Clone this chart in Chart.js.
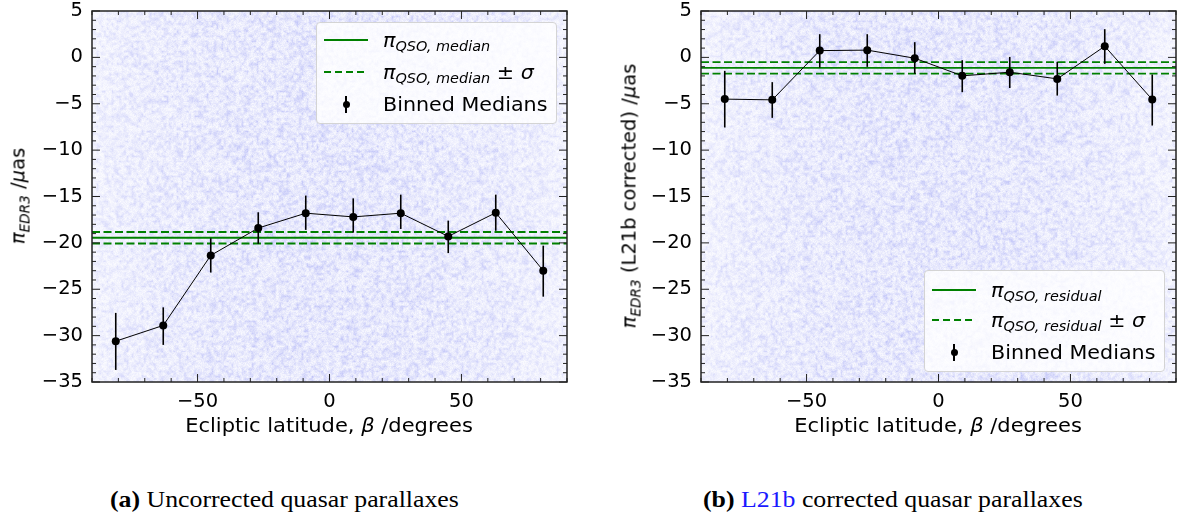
<!DOCTYPE html>
<html>
<head>
<meta charset="utf-8">
<script src="https://cdn.jsdelivr.net/npm/chart.js@4.4.1/dist/chart.umd.min.js"></script>
<style>
  body { margin: 0; width: 1180px; height: 515px; background: #fff; position: relative; overflow: hidden; font-family: "DejaVu Sans", sans-serif; color: #000; }
  .panel { position: absolute; top: 0; height: 440px; }
  .ytitle { position: absolute; white-space: nowrap; font-size: 19.5px; transform: translate(-50%, -50%) rotate(-90deg); }
  .xtitle { position: absolute; top: 413px; white-space: nowrap; font-size: 20px; transform: translateX(-50%) scaleX(1.05); }
  sub { font-size: 0.7em; vertical-align: -0.35em; line-height: 0; font-style: italic; }
  .legend { position: absolute; width: 241px; height: 102px; box-sizing: border-box; border: 1px solid #d4d4d4; border-radius: 4px; background: rgba(255,255,255,0.8); font-size: 19.5px; }
  .row { position: absolute; left: 0; width: 100%; height: 0; }
  .solid { position: absolute; left: 7px; width: 44px; top: -1px; height: 2px; background: #008000; }
  .dash { position: absolute; left: 7px; width: 44px; top: -1px; height: 2px; background: repeating-linear-gradient(to right, #008000 0 7px, transparent 7px 11px); }
  .bar { position: absolute; left: 28px; width: 2px; top: -8px; height: 17px; background: #000; }
  .dot { position: absolute; left: 25.5px; top: -3.5px; width: 7px; height: 7px; border-radius: 50%; background: #000; }
  .lt { position: absolute; left: 66px; top: 0; transform-origin: left center; transform: translateY(-50%) scaleX(1.06); white-space: nowrap; }
  .caption { position: absolute; top: 487px; line-height: 1; font-family: "Liberation Serif", "Times New Roman", serif; font-size: 24px; white-space: nowrap; transform-origin: left top; transform: scaleX(1.075); }
  .caption b { font-weight: bold; }
  .ref { color: #1a1aff; }
</style>
</head>
<body>
<div class="panel" style="left:0;width:590px"><canvas id="raw"></canvas></div>
<div class="panel" style="left:600px;width:580px"><canvas id="corr"></canvas></div>

<div class="ytitle" style="left:18px;top:196px"><i>π</i><sub>EDR3</sub> /<i>μ</i>as</div>
<div class="ytitle" style="left:629px;top:196px"><i>π</i><sub>EDR3</sub> (L21b corrected) /<i>μ</i>as</div>
<div class="xtitle" style="left:329px">Ecliptic latitude, <i>β</i> /degrees</div>
<div class="xtitle" style="left:938px">Ecliptic latitude, <i>β</i> /degrees</div>

<div class="legend" style="left:316px;top:22px">
  <div class="row" style="top:17px"><div class="solid"></div><div class="lt"><i>π</i><sub>QSO, median</sub></div></div>
  <div class="row" style="top:48.5px"><div class="dash"></div><div class="lt"><i>π</i><sub>QSO, median</sub> ± <i>σ</i></div></div>
  <div class="row" style="top:81px"><div class="bar"></div><div class="dot"></div><div class="lt">Binned Medians</div></div>
</div>
<div class="legend" style="left:924px;top:270px">
  <div class="row" style="top:19px"><div class="solid"></div><div class="lt"><i>π</i><sub>QSO, residual</sub></div></div>
  <div class="row" style="top:49px"><div class="dash"></div><div class="lt"><i>π</i><sub>QSO, residual</sub> ± <i>σ</i></div></div>
  <div class="row" style="top:81px"><div class="bar"></div><div class="dot"></div><div class="lt">Binned Medians</div></div>
</div>

<div class="caption" style="left:110px"><b>(a)</b> Uncorrected quasar parallaxes</div>
<div class="caption" style="left:703px"><b>(b)</b> <span class="ref">L21b</span> corrected quasar parallaxes</div>

<script>
// ecliptic latitude bins (degrees)
const binCentres = [-81, -63, -45, -27, -9, 9, 27, 45, 63, 81];
const xTicks = [-50, 0, 50];
const yTicks = [-35, -30, -25, -20, -15, -10, -5, 0, 5];

// (a) uncorrected parallaxes, µas
const rawMedians = [-30.6, -28.9, -21.35, -18.4, -16.8, -17.2, -16.8, -19.3, -16.75, -23.0];
const rawUpper = [-27.55, -26.95, -19.5, -16.7, -14.9, -15.2, -14.8, -17.6, -14.8, -20.3];
const rawLower = [-33.7, -31.0, -23.2, -20.1, -18.6, -18.9, -18.5, -21.1, -18.7, -25.8];
const rawQsoMedian = -19.45;
const rawQsoSigma = 0.62;

// (b) L21b corrected parallaxes, µas
const corrMedians = [-4.5, -4.58, 0.73, 0.78, -0.09, -1.99, -1.6, -2.32, 1.2, -4.55];
const corrUpper = [-1.45, -2.67, 2.5, 2.5, 1.64, -0.3, 0.05, -0.48, 3.04, -1.85];
const corrLower = [-7.56, -6.52, -1.1, -1.02, -1.78, -3.75, -3.3, -4.12, -0.7, -7.35];
const corrQsoResidual = -1.13;
const corrQsoSigma = 0.62;

const GREEN = '#008000';
const fmt = v => (v < 0 ? '\u2212' + Math.abs(v) : String(v));

// integer hash, used only for the speckled background texture
function hash2(x, y) {
  let h = Math.imul(x, 374761393) ^ Math.imul(y, 668265263);
  h = Math.imul(h ^ (h >>> 13), 1274126177);
  h ^= h >>> 16;
  return (h >>> 0) / 4294967296;
}

// faint blue cloud behind the data (the individual quasars)
const skyCloud = {
  id: 'skyCloud',
  beforeDatasetsDraw(chart, args, opts) {
    const { ctx, chartArea: a, scales: { x } } = chart;
    const left = Math.round(a.left), top = Math.round(a.top);
    const w = Math.round(a.right) - left, h = Math.round(a.bottom) - top;
    if (!chart.$cloud) {
      const img = ctx.createImageData(w, h);
      const s = opts.seed;
      for (let j = 0; j < h; j++) {
        for (let i = 0; i < w; i++) {
          const beta = x.getValueForPixel(left + i) * Math.PI / 180;
          const dens = 0.45 + 0.55 * Math.sqrt(Math.max(Math.cos(beta), 0));
          const gx = i / 2.5, gy = j / 2.5, ix = Math.floor(gx), iy = Math.floor(gy), fx = gx - ix, fy = gy - iy;
          const sm = (hash2(ix + s, iy) * (1 - fx) + hash2(ix + 1 + s, iy) * fx) * (1 - fy) +
                     (hash2(ix + s, iy + 1) * (1 - fx) + hash2(ix + 1 + s, iy + 1) * fx) * fy;
          const px = hash2(i + 7777 + s, j + 3333);
          const al = dens * (0.03 + 0.24 * sm * sm + 0.10 * px);
          const k = (j * w + i) * 4;
          img.data[k] = 255 - al * 175;
          img.data[k + 1] = 255 - al * 165;
          img.data[k + 2] = 255 - al * 20;
          img.data[k + 3] = 255;
        }
      }
      chart.$cloud = img;
    }
    ctx.putImageData(chart.$cloud, left, top);
  }
};

// vertical error bars under the binned medians
const errorBars = {
  id: 'errorBars',
  beforeDatasetDraw(chart, args, opts) {
    if (args.index !== 0) return;
    const { ctx, scales: { x, y } } = chart;
    ctx.save();
    ctx.strokeStyle = '#000';
    ctx.lineWidth = 1.6;
    opts.centres.forEach((c, i) => {
      const px = x.getPixelForValue(c);
      ctx.beginPath();
      ctx.moveTo(px, y.getPixelForValue(opts.lower[i]));
      ctx.lineTo(px, y.getPixelForValue(opts.upper[i]));
      ctx.stroke();
    });
    ctx.restore();
  }
};

// matplotlib style box with inward major/minor ticks on all four sides
const frameTicks = {
  id: 'frameTicks',
  afterDraw(chart, args, opts) {
    const { ctx, chartArea: a, scales: { x, y } } = chart;
    ctx.save();
    ctx.strokeStyle = '#222';
    ctx.lineWidth = 1;
    const tick = (px, py, dx, dy) => {
      ctx.beginPath();
      ctx.moveTo(px, py);
      ctx.lineTo(px + dx, py + dy);
      ctx.stroke();
    };
    for (let v = x.min; v <= x.max; v += opts.xMinor) {
      const px = x.getPixelForValue(v);
      const len = xTicks.includes(v) ? 8 : 4;
      tick(px, a.bottom, 0, -len);
      tick(px, a.top, 0, len);
    }
    for (let v = y.min; v <= y.max; v += opts.yMinor) {
      const py = y.getPixelForValue(v);
      const len = yTicks.includes(v) ? 8 : 4;
      tick(a.left, py, len, 0);
      tick(a.right, py, -len, 0);
    }
    ctx.lineWidth = 1.5;
    ctx.strokeRect(a.left, a.top, a.right - a.left, a.bottom - a.top);
    ctx.restore();
  }
};

function hline(value, dashed) {
  return {
    data: [{ x: -90, y: value }, { x: 90, y: value }],
    showLine: true,
    borderColor: GREEN,
    borderWidth: 1.8,
    borderDash: dashed ? [8, 3.5] : [],
    pointRadius: 0
  };
}

function noLabelPadding(s) {
  s.paddingTop = 0;
  s.paddingBottom = 0;
  s.paddingLeft = 0;
  s.paddingRight = 0;
}

function makePanel(id, medians, lower, upper, centre, sigma, yAxisWidth, rightPad, seed) {
  return new Chart(document.getElementById(id), {
    type: 'scatter',
    data: {
      datasets: [
        {
          label: 'Binned Medians',
          data: binCentres.map((b, i) => ({ x: b, y: medians[i] })),
          showLine: true,
          borderColor: '#000',
          borderWidth: 1,
          pointRadius: 4,
          pointBackgroundColor: '#000',
          pointBorderWidth: 0
        },
        hline(centre, false),
        hline(centre + sigma, true),
        hline(centre - sigma, true)
      ]
    },
    options: {
      responsive: true,
      maintainAspectRatio: false,
      animation: false,
      layout: { padding: { top: 11, right: rightPad, left: 0, bottom: 0 } },
      plugins: {
        legend: { display: false },
        tooltip: { enabled: false },
        skyCloud: { seed: seed },
        errorBars: { centres: binCentres, lower: lower, upper: upper },
        frameTicks: { xMinor: 10, yMinor: 1 }
      },
      scales: {
        x: {
          type: 'linear',
          min: -90,
          max: 90,
          afterBuildTicks: s => { s.ticks = xTicks.map(v => ({ value: v })); },
          afterFit: s => { s.height = 58; noLabelPadding(s); },
          grid: { display: false, drawTicks: false },
          border: { display: false },
          ticks: { callback: fmt, color: '#000', padding: 8, maxRotation: 0, autoSkip: false, font: { family: 'DejaVu Sans', size: 19.5 } }
        },
        y: {
          type: 'linear',
          min: -35,
          max: 5,
          afterBuildTicks: s => { s.ticks = yTicks.map(v => ({ value: v })); },
          afterFit: s => { s.width = yAxisWidth; noLabelPadding(s); },
          grid: { display: false, drawTicks: false },
          border: { display: false },
          ticks: { callback: fmt, color: '#000', padding: 9, autoSkip: false, font: { family: 'DejaVu Sans', size: 19.5 } }
        }
      }
    },
    plugins: [skyCloud, errorBars, frameTicks]
  });
}

makePanel('raw', rawMedians, rawLower, rawUpper, rawQsoMedian, rawQsoSigma, 92, 23, 0);
makePanel('corr', corrMedians, corrLower, corrUpper, corrQsoResidual, corrQsoSigma, 101, 4, 5000);
</script>
</body>
</html>
